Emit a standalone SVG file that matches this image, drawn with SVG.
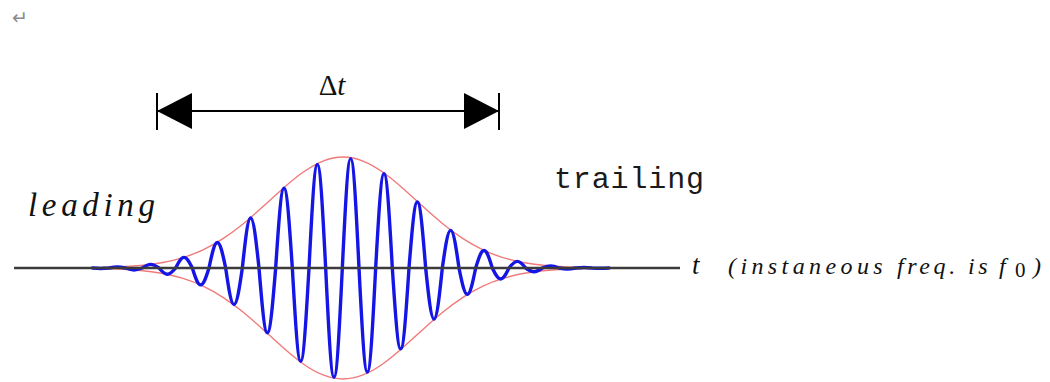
<svg xmlns="http://www.w3.org/2000/svg" width="1050" height="382" viewBox="0 0 1050 382">
<style>
.bg{fill:#ffffff}
.env{fill:none;stroke:#f07a7a;stroke-width:1.4}
.wave{fill:none;stroke:#1515e6;stroke-width:3.4;stroke-linejoin:round;stroke-linecap:round}
.axis{stroke:#3c3c3c;stroke-width:2.5}
.dim{stroke:#000;stroke-width:2;fill:none}
.serif{font-family:"Liberation Serif","Times New Roman",serif;fill:#111}
.ital{font-style:italic}
.mono{font-family:"Liberation Mono","Courier New",monospace;fill:#1a1a1a}
</style>
<defs>
<marker id="tri" markerUnits="userSpaceOnUse" markerWidth="36" markerHeight="38" refX="35" refY="19" orient="auto-start-reverse" viewBox="0 0 36 38">
<path d="M0,1 L35,19 L0,37 Z" fill="#000"/>
</marker>
</defs>
<rect class="bg" x="0" y="0" width="1050" height="382"/>
<text x="12" y="24" font-family="DejaVu Sans, sans-serif" font-size="19" fill="#8a8a8a">↵</text>

<g id="envelope">
<path class="env" d="M103,267.46 C109.67,267.3 116.33,267.08 123,266.74 S136.33,265.97 143,265.3 S156.33,263.72 163,262.5 S176.33,259.65 183,257.6 S196.33,253.03 203,249.9 S216.33,243.04 223,238.7 S236.33,229.43 243,224 S256.33,212.66 263,206.6 S276.33,194.39 283,188.5 S296.33,177.03 303,172.3 S316.33,163.68 323,161.04 S336.33,157 343,157 S356.33,158.4 363,161.04 S376.33,167.57 383,172.3 S396.33,182.61 403,188.5 S416.33,200.54 423,206.6 S436.33,218.57 443,224 S456.33,234.36 463,238.7 S476.33,246.77 483,249.9 S496.33,255.55 503,257.6 S516.33,261.28 523,262.5 S536.33,264.63 543,265.3 S556.33,266.4 563,266.74 S576.33,267.3 583,267.46"/>
<path class="env" d="M103,268.54 C109.67,268.7 116.33,268.92 123,269.26 S136.33,270.03 143,270.7 S156.33,272.28 163,273.5 S176.33,276.35 183,278.4 S196.33,282.97 203,286.1 S216.33,292.96 223,297.3 S236.33,306.57 243,312 S256.33,323.34 263,329.4 S276.33,341.61 283,347.5 S296.33,358.97 303,363.7 S316.33,372.32 323,374.96 S336.33,379 343,379 S356.33,377.6 363,374.96 S376.33,368.43 383,363.7 S396.33,353.39 403,347.5 S416.33,335.46 423,329.4 S436.33,317.43 443,312 S456.33,301.64 463,297.3 S476.33,289.23 483,286.1 S496.33,280.45 503,278.4 S516.33,274.72 523,273.5 S536.33,271.37 543,270.7 S556.33,269.6 563,269.26 S576.33,268.7 583,268.54"/>
</g>

<g id="wave">
<path class="wave" d="M92.34,268
c2.78,0.25 5.33,0.48 8.333,0.48 c3.02,0 5.55,-0.23 8.333,-0.48
c2.78,-0.51 5.33,-0.98 8.333,-0.98 c3.02,0 5.55,0.47 8.333,0.98
c2.78,1.01 5.33,1.93 8.333,1.93 c3.02,0 5.55,-0.92 8.333,-1.93
c2.78,-1.88 5.33,-3.58 8.333,-3.58 c3.02,0 5.55,1.70 8.333,3.58
c2.78,3.31 5.33,6.3 8.333,6.3 c3.02,0 5.55,-2.99 8.333,-6.3
c2.78,-5.57 5.33,-10.6 8.333,-10.6 c3.02,0 5.55,5.04 8.333,10.6
c2.78,8.87 5.33,16.9 8.333,16.9 c3.02,0 5.55,-8.03 8.333,-16.9
c2.78,-13.39 5.33,-25.5 8.333,-25.5 c3.02,0 5.55,12.11 8.333,25.5
c2.78,19.22 5.33,36.6 8.333,36.6 c3.02,0 5.55,-17.39 8.333,-36.6
c2.78,-26.25 5.33,-50 8.333,-50 c3.02,0 5.55,23.75 8.333,50
c2.78,33.97 5.33,64.7 8.333,64.7 c3.02,0 5.55,-30.73 8.333,-64.7
c2.78,-41.84 5.33,-79.7 8.333,-79.7 c3.02,0 5.55,37.86 8.333,79.7
c2.78,48.93 5.33,93.2 8.333,93.2 c3.02,0 5.55,-44.27 8.333,-93.2
c2.78,-54.34 5.33,-103.5 8.333,-103.5 c3.02,0 5.55,49.16 8.333,103.5
c2.78,57.33 5.33,109.2 8.333,109.2 c3.02,0 5.55,-51.87 8.333,-109.2
c2.78,-57.44 5.33,-109.4 8.333,-109.4 c3.02,0 5.55,51.97 8.333,109.4
c2.78,54.65 5.33,104.1 8.333,104.1 c3.02,0 5.55,-49.45 8.333,-104.1
c2.78,-49.46 5.33,-94.2 8.333,-94.2 c3.02,0 5.55,44.75 8.333,94.2
c2.78,42.42 5.33,80.8 8.333,80.8 c3.02,0 5.55,-38.38 8.333,-80.8
c2.78,-34.65 5.33,-66 8.333,-66 c3.02,0 5.55,31.35 8.333,66
c2.78,26.83 5.33,51.1 8.333,51.1 c3.02,0 5.55,-24.27 8.333,-51.1
c2.78,-19.74 5.33,-37.6 8.333,-37.6 c3.02,0 5.55,17.86 8.333,37.6
c2.78,13.81 5.33,26.3 8.333,26.3 c3.02,0 5.55,-12.49 8.333,-26.3
c2.78,-9.19 5.33,-17.5 8.333,-17.5 c3.02,0 5.55,8.31 8.333,17.5
c2.78,5.78 5.33,11 8.333,11 c3.02,0 5.55,-5.23 8.333,-11
c2.78,-3.47 5.33,-6.6 8.333,-6.6 c3.02,0 5.55,3.14 8.333,6.6
c2.78,1.97 5.33,3.75 8.333,3.75 c3.02,0 5.55,-1.78 8.333,-3.75
c2.78,-1.07 5.33,-2.03 8.333,-2.03 c3.02,0 5.55,0.96 8.333,2.03
c2.78,0.55 5.33,1.04 8.333,1.04 c3.02,0 5.55,-0.49 8.333,-1.04
c2.78,-0.27 5.33,-0.51 8.333,-0.51 c3.02,0 5.55,0.24 8.333,0.51
c2.78,0.13 5.33,0.24 8.333,0.24 c3.02,0 5.55,-0.11 8.333,-0.24"/>
</g>

<g id="axis">
<line class="axis" x1="14" y1="268" x2="680" y2="268"/>
<text class="serif ital" x="692" y="274" font-size="27">t</text>
</g>

<g id="connectors">
<line class="dim" x1="157" y1="111" x2="499" y2="111" marker-start="url(#tri)" marker-end="url(#tri)"/>
<path class="dim" d="M157,93 V130 M499,93 V130"/>
</g>

<g id="delta-t">
<text class="serif" x="332" y="95" font-size="29" text-anchor="middle">Δ<tspan class="ital">t</tspan></text>
</g>

<g id="leading">
<text class="serif ital" x="28" y="216" font-size="33" textLength="127" lengthAdjust="spacing">leading</text>
</g>

<g id="trailing">
<text class="mono" x="554" y="188" font-size="30" textLength="150" lengthAdjust="spacing">trailing</text>
</g>

<g id="freq-note">
<text class="serif ital" y="274" font-size="24" letter-spacing="3.6"><tspan x="728" letter-spacing="4.4">(instaneous</tspan> <tspan x="897">freq.</tspan> <tspan x="968">is</tspan> <tspan x="999">f</tspan><tspan x="1015" y="277" font-size="21" font-style="normal" letter-spacing="0">0</tspan><tspan x="1033" y="274" letter-spacing="0">)</tspan></text>
</g>
</svg>
